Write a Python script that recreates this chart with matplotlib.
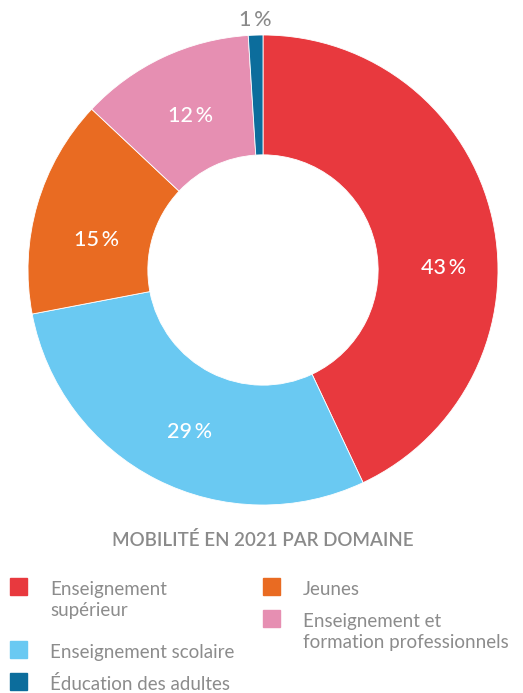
import numpy as np
import matplotlib.pyplot as plt
from matplotlib.patches import Rectangle

plt.rcParams['font.family'] = ['Lato', 'DejaVu Sans']

# Données
domaines = ["Enseignement\nsupérieur", "Enseignement scolaire", "Jeunes",
            "Enseignement et\nformation professionnels", "Éducation des adultes"]
parts = [43, 29, 15, 12, 1]
couleurs = ["#E8393E", "#6AC9F2", "#E96B22", "#E68FB2", "#0C6D9C"]
titre = "MOBILITÉ EN 2021 PAR DOMAINE"

W, H = 523, 693
fig = plt.figure(figsize=(W / 100, H / 100), dpi=100)

# axe du donut : centre (263, 270) px, rayon 235 px
cx, cy, R = 263, 270, 235
ax = fig.add_axes([(cx - R) / W, (H - cy - R) / H, 2 * R / W, 2 * R / H])
wedges, _ = ax.pie(parts, colors=couleurs, startangle=90, counterclock=False,
                   radius=1, wedgeprops=dict(width=0.51, edgecolor="white", linewidth=0.6))
ax.set_xlim(-1, 1)
ax.set_ylim(-1, 1)
ax.set_aspect("equal")
ax.axis("off")

# étiquettes de pourcentage
decalage = [-12, 2.7, 6, 0, 0]   # petit ajustement d'angle (degrés)
rayon_lab = [0.77, 0.757, 0.72, 0.725, 1.0]
for w, p, d, r in zip(wedges, parts, decalage, rayon_lab):
    ang = np.deg2rad((w.theta1 + w.theta2) / 2 + d)
    x, y = r * np.cos(ang), r * np.sin(ang)
    if p < 5:
        ax.text(x, 1.065, f"{p}\u2009%", ha="center", va="center",
                color="#8a8a8a", fontsize=15.5, fontweight="medium", clip_on=False)
    else:
        ax.text(x, y, f"{p}\u2009%", ha="center", va="center",
                color="white", fontsize=15.5, fontweight="medium")

# titre
fig.text(cx / W, 1 - 540 / H, titre, ha="center", va="center",
         color="#8a8a8a", fontsize=13.5, fontweight="semibold")

# légende manuelle (2 colonnes)
pos = [(10, 595), (10, 658), (263, 595), (263, 627), (10, 690)]
for lab, c, (x, yb) in zip(domaines, couleurs, pos):
    fig.add_artist(Rectangle((x / W, 1 - yb / H), 17 / W, 17 / H,
                             transform=fig.transFigure, color=c))
    for i, ligne in enumerate(lab.split("\n")):
        fig.text((x + 40) / W, 1 - (yb + 21 * i) / H, ligne, ha="left",
                 va="baseline", color="#8c8c8c", fontsize=13.5)

fig.savefig("out.png", dpi=100)
